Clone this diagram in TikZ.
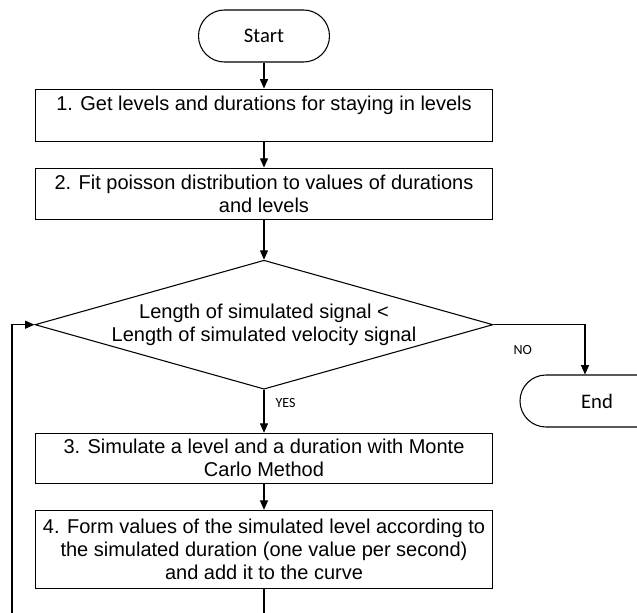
\documentclass[tikz,border=0pt]{standalone}
\usepackage{fontspec}
\setmainfont{Liberation Sans}
\newfontfamily\calibri{Carlito}
\usetikzlibrary{arrows.meta,positioning,shapes.geometric}

\begin{document}
\begin{tikzpicture}[
      x=0.75pt, y=0.75pt,
      node distance=19.5pt,
      font=\fontsize{15}{17.25}\selectfont,
      stepbox/.style={
        draw,
        line width=0.8pt,
        align=center,
        minimum width=342.75pt,
        minimum height=39pt,
        inner sep=2pt
      },
      term/.style={
        draw,
        line width=0.8pt,
        rounded corners=19.5pt,
        minimum width=98.25pt,
        minimum height=39pt,
        font=\calibri\fontsize{15.5}{18}\selectfont
      },
      test/.style={
        draw,
        diamond,
        aspect=3.55,
        inner sep=0pt,
        line width=0.8pt,
        align=center,
        minimum width=343.5pt,
        minimum height=96.75pt
      },
      flag/.style={font=\calibri\fontsize{10.5}{12}\selectfont},
      arr/.style={-{Triangle[length=7pt,width=6pt]},line width=0.8pt},
      link/.style={line width=0.8pt}
    ]
    \path[fill=white] (0,0) rectangle (637,-613);
    \useasboundingbox (0,0) rectangle (637,-613);
    \node[term] (start) at (264,-36) {Start};
    \node[stepbox,below=of start] (get) {1. Get levels and durations for staying in levels\\\mbox{}};
    \node[stepbox,below=of get,minimum height=38.25pt] (fit) {2. Fit poisson distribution to values of durations\\and levels};
    \node[test,below=30pt of fit] (check) {Length of simulated signal <\\Length of simulated velocity signal};
    \node[stepbox,below=32.25pt of check,minimum height=37.5pt] (sim) {3. Simulate a level and a duration with Monte\\Carlo Method};
    \node[stepbox,below=of sim,minimum height=58.5pt] (form) {4. Form values of the simulated level according to\\the simulated duration (one value per second)\\and add it to the curve};
    \node[term,minimum width=115.5pt] (finish) at (597,-401) {End};
    % open ends at the lower border
    \coordinate (cutform) at (form.south |- 0,-613);
    \coordinate (cutloop) at (12,-613);
    \draw[arr] (start) -- (get);
    \draw[arr] (get) -- (fit);
    \draw[arr] (fit) -- (check);
    \draw[arr] (check) -- node[flag,right=5pt,pos=0.3] {YES} (sim);
    \draw[arr] (check.east) -| node[flag,below=12pt,pos=0.16] {NO} ([xshift=-9pt]finish.north);
    \draw[arr] (sim) -- (form);
    \draw[link] (form) -- (cutform);
    \draw[arr] (cutloop) |- (check.west);
\end{tikzpicture}
\end{document}
